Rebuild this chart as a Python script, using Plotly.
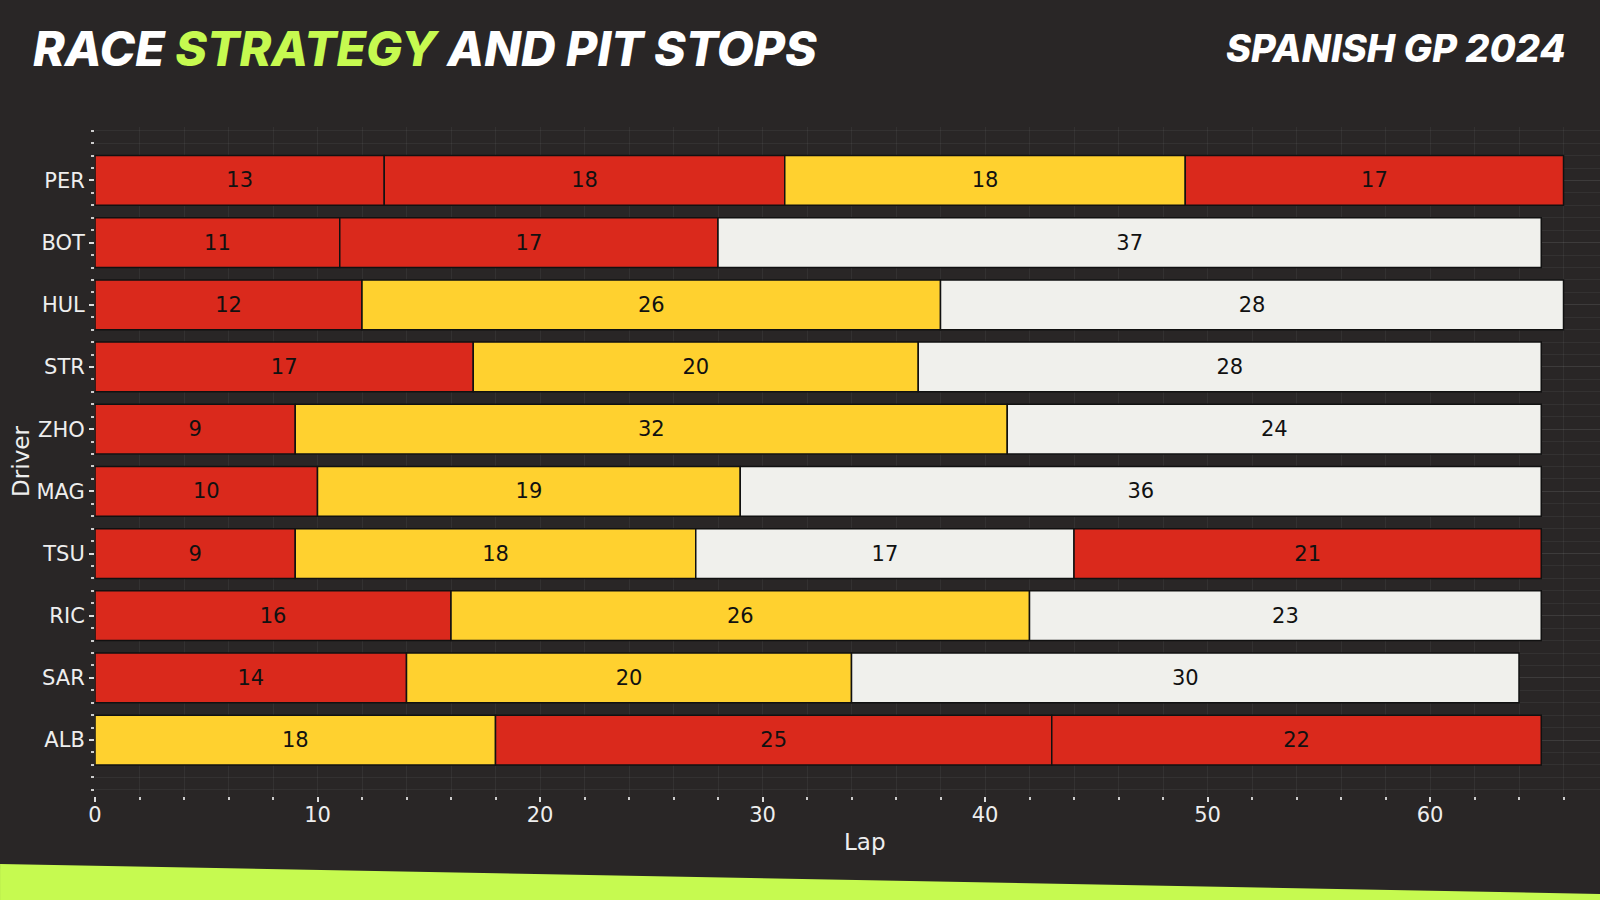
import plotly.graph_objects as go

drivers = ["PER", "BOT", "HUL", "STR", "ZHO", "MAG", "TSU", "RIC", "SAR", "ALB"]
stint_laps = [
    [13, 18, 18, 17],
    [11, 17, 37],
    [12, 26, 28],
    [17, 20, 28],
    [9, 32, 24],
    [10, 19, 36],
    [9, 18, 17, 21],
    [16, 26, 23],
    [14, 20, 30],
    [18, 25, 22],
]
stint_compounds = [
    ["SOFT", "SOFT", "MEDIUM", "SOFT"],
    ["SOFT", "SOFT", "HARD"],
    ["SOFT", "MEDIUM", "HARD"],
    ["SOFT", "MEDIUM", "HARD"],
    ["SOFT", "MEDIUM", "HARD"],
    ["SOFT", "MEDIUM", "HARD"],
    ["SOFT", "MEDIUM", "HARD", "SOFT"],
    ["SOFT", "MEDIUM", "HARD"],
    ["SOFT", "MEDIUM", "HARD"],
    ["MEDIUM", "SOFT", "SOFT"],
]
compound_colors = {"SOFT": "#DA291C", "MEDIUM": "#FFD12F", "HARD": "#F0F0EC"}

BG = "#292626"
LIME = "#C6FA50"
n = len(drivers)
ypos = {d: n - 1 - i for i, d in enumerate(drivers)}

fig = go.Figure()
max_stints = max(len(s) for s in stint_laps)
for k in range(max_stints):
    xs, bases, ys, cols, texts = [], [], [], [], []
    for i, d in enumerate(drivers):
        if k < len(stint_laps[i]):
            xs.append(stint_laps[i][k])
            bases.append(sum(stint_laps[i][:k]))
            ys.append(ypos[d])
            cols.append(compound_colors[stint_compounds[i][k]])
            texts.append(str(stint_laps[i][k]))
    fig.add_trace(go.Bar(
        x=xs, y=ys, base=bases, orientation="h", width=0.8,
        marker=dict(color=cols, line=dict(color="#111111", width=1.5)),
        text=texts, textposition="inside", insidetextanchor="middle",
        textangle=0, textfont=dict(color="#111111", size=21, family="DejaVu Sans"),
        showlegend=False, hoverinfo="skip", cliponaxis=False,
    ))

grid_col = "rgba(255,255,255,0.05)"
fig.update_layout(
    width=1600, height=900,
    paper_bgcolor=BG, plot_bgcolor=BG,
    margin=dict(l=95, r=0, t=127, b=104),
    barmode="overlay",
    font=dict(family="DejaVu Sans", color="#EEEEEE"),
    xaxis=dict(
        range=[0, 67.64], tickmode="linear", tick0=0, dtick=10,
        ticks="outside", ticklen=5, tickwidth=1.5, tickcolor="#DDDDDD",
        tickfont=dict(size=21, color="#EEEEEE"), ticklabelstandoff=-5,
        showgrid=True, gridcolor=grid_col, gridwidth=1,
        minor=dict(dtick=2, ticks="outside", ticklen=3, tickcolor="#CCCCCC",
                   showgrid=True, gridcolor=grid_col),
        zeroline=False, showline=False,
    ),
    yaxis=dict(
        range=[-0.9, 9.86], tickvals=list(ypos.values()), ticktext=list(ypos.keys()),
        ticks="outside", ticklen=5, tickwidth=1.5, tickcolor="#DDDDDD",
        tickfont=dict(size=21, color="#EEEEEE"),
        showgrid=True, gridcolor=grid_col,
        minor=dict(tickmode="linear", tick0=0, dtick=0.2, ticks="outside", ticklen=3,
                   tickcolor="#CCCCCC", showgrid=True, gridcolor=grid_col),
        zeroline=False, showline=False,
        title=dict(text="Driver", font=dict(size=23, color="#EEEEEE"), standoff=0),
    ),
)

# bottom lime band
fig.add_shape(
    type="path", xref="paper", yref="paper", layer="below",
    path="M -0.0631 -0.1016 L 1.0 -0.1465 L 1.0 -0.1555 L -0.0631 -0.1555 Z",
    fillcolor=LIME, line=dict(width=0),
)

fig.add_annotation(
    x=31, y=48, xref="paper", yref="paper", showarrow=False,
    text="RACE <span style='color:%s'>STRATEGY</span> AND PIT STOPS" % LIME,
    font=dict(family="Inter", size=48, color="#FFFFFF", weight=800, style="italic"),
    xanchor="left", yanchor="middle",
)
fig.add_annotation(
    x=1568, y=48, xref="paper", yref="paper", showarrow=False,
    text="SPANISH GP 2024",
    font=dict(family="Inter", size=38, color="#FFFFFF", weight=800, style="italic"),
    xanchor="right", yanchor="middle",
)
fig.add_annotation(
    x=865, y=842, xref="paper", yref="paper", showarrow=False,
    text="Lap", font=dict(family="DejaVu Sans", size=23, color="#EEEEEE"),
    xanchor="center", yanchor="middle",
)

# convert pixel coordinates to paper for annotations
W_plot = 1600 - 95
H_plot = 900 - 127 - 104
for a in fig.layout.annotations:
    px, py = a.x, a.y
    a.x = (px - 95) / W_plot
    a.y = (900 - 104 - py) / H_plot

fig.write_html(
    "out.html",
    config={"displayModeBar": False},
    post_script="document.body.style.margin='0';document.body.style.background='%s';"
                "document.documentElement.style.overflow='hidden';" % BG,
)
